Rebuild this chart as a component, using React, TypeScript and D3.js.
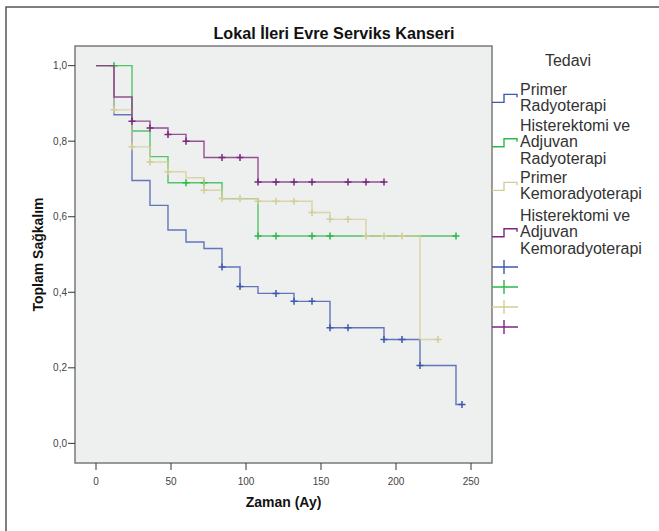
import React from "react";
import * as d3 from "d3";

const title = "Lokal İleri Evre Serviks Kanseri";
const xLabel = "Zaman (Ay)";
const yLabel = "Toplam Sağkalım";
const legendTitle = "Tedavi";

const groupNames = [
  ["Primer", "Radyoterapi"],
  ["Histerektomi ve", "Adjuvan", "Radyoterapi"],
  ["Primer", "Kemoradyoterapi"],
  ["Histerektomi ve", "Adjuvan", "Kemoradyoterapi"],
];
const groupColors = ["#3E58AC", "#2EB848", "#D3CE97", "#7C287D"];

const xTicks = [0, 50, 100, 150, 200, 250];
const yTicks = [0, 0.2, 0.4, 0.6, 0.8, 1.0];

// Step points: [time, survival]
const blueSteps: [number, number][] = [
  [0, 1], [12, 0.870], [24, 0.696], [36, 0.630], [48, 0.565], [60, 0.533], [72, 0.516],
  [84, 0.467], [96, 0.415], [108, 0.397], [132, 0.376], [156, 0.306], [192, 0.275],
  [216, 0.206], [240, 0.103],
];
const blueEnd = 244;
const blueCensors = [84, 96, 120, 132, 144, 156, 168, 192, 204, 216, 244];

const greenSteps: [number, number][] = [
  [0, 1], [24, 0.827], [36, 0.759], [48, 0.690], [84, 0.648], [108, 0.549],
];
const greenEnd = 240;
const greenCensors = [12, 60, 72, 108, 120, 144, 156, 240];

const khakiSteps: [number, number][] = [
  [0, 1], [12, 0.883], [24, 0.785], [36, 0.745], [48, 0.719], [60, 0.703], [72, 0.670],
  [84, 0.648], [108, 0.641], [144, 0.611], [156, 0.593], [180, 0.549], [216, 0.275],
];
const khakiEnd = 228;
const khakiCensors = [12, 24, 36, 48, 72, 84, 96, 108, 120, 132, 144, 156, 168, 180, 192, 204, 228];

const purpleSteps: [number, number][] = [
  [0, 1], [12, 0.917], [24, 0.853], [36, 0.835], [48, 0.818], [60, 0.800], [72, 0.757],
  [108, 0.692],
];
const purpleEnd = 192;
const purpleCensors = [24, 36, 48, 60, 84, 96, 108, 120, 132, 144, 168, 180, 192];

const series = [
  { steps: blueSteps, end: blueEnd, censors: blueCensors },
  { steps: greenSteps, end: greenEnd, censors: greenCensors },
  { steps: khakiSteps, end: khakiEnd, censors: khakiCensors },
  { steps: purpleSteps, end: purpleEnd, censors: purpleCensors },
];

const W = 659;
const H = 531;
const plot = { left: 75, right: 492, top: 46, bottom: 463 };
const font = "'Liberation Sans', Arial, sans-serif";

function survivalAt(steps: [number, number][], t: number) {
  let v = steps[0][1];
  for (const [st, sv] of steps) if (st <= t) v = sv;
  return v;
}

export default function App() {
  const x = d3.scaleLinear().domain([-14, 264]).range([plot.left, plot.right]);
  const y = d3.scaleLinear().domain([-0.052, 1.052]).range([plot.bottom, plot.top]);
  const line = d3
    .line<[number, number]>()
    .x((d) => x(d[0]))
    .y((d) => y(d[1]))
    .curve(d3.curveStepAfter);
  const fmt = (v: number) => d3.format(".1f")(v).replace(".", ",");

  // legend layout
  const lx = 492;
  const lineH = 16.7;
  const entryStarts = [89, 125, 177, 215];
  const crossYs = [267, 287, 307, 327];

  return (
    <div style={{ position: "absolute", left: 0, top: 0 }}>
      <svg width={W} height={H} style={{ display: "block", background: "#fff" }}>
        {/* outer frame */}
        <path d={`M6,${H + 2} L6,7 L${W + 2},7`} fill="none" stroke="#555" strokeWidth={1.5} />
        <text x={334} y={39} textAnchor="middle" fontFamily={font} fontWeight="bold" fontSize={16.2} fill="#111">
          {title}
        </text>
        {/* plot area */}
        <rect
          x={plot.left}
          y={plot.top}
          width={plot.right - plot.left}
          height={plot.bottom - plot.top}
          fill="#EEEFEF"
          stroke="#7a7a7a"
          strokeWidth={1.5}
        />
        {/* y axis */}
        {yTicks.map((t) => (
          <g key={"y" + t}>
            <line x1={plot.left - 7} x2={plot.left} y1={y(t)} y2={y(t)} stroke="#333" strokeWidth={1} />
            <text x={plot.left - 8} y={y(t) + 3.5} textAnchor="end" fontFamily={font} fontSize={10} fill="#444">
              {fmt(t)}
            </text>
          </g>
        ))}
        {/* x axis */}
        {xTicks.map((t) => (
          <g key={"x" + t}>
            <line x1={x(t)} x2={x(t)} y1={plot.bottom} y2={plot.bottom + 7} stroke="#333" strokeWidth={1} />
            <text x={x(t)} y={plot.bottom + 22} textAnchor="middle" fontFamily={font} fontSize={10} fill="#444">
              {t}
            </text>
          </g>
        ))}
        <text x={(plot.left + plot.right) / 2} y={507} textAnchor="middle" fontFamily={font} fontWeight="bold" fontSize={14} fill="#111">
          {xLabel}
        </text>
        <text
          transform={`translate(43,${(plot.top + plot.bottom) / 2}) rotate(-90)`}
          textAnchor="middle"
          fontFamily={font}
          fontWeight="bold"
          fontSize={14}
          fill="#111"
        >
          {yLabel}
        </text>
        {/* curves */}
        {series.map((s, i) => {
          const last = s.steps[s.steps.length - 1][1];
          const pts: [number, number][] = [...s.steps, [s.end, last]];
          return (
            <g key={"s" + i}>
              <path d={line(pts) || ""} fill="none" stroke={groupColors[i]} strokeWidth={1.4} strokeOpacity={0.8} />
              {s.censors.map((c, j) => {
                const cx = x(c);
                const cy = y(survivalAt(s.steps, c));
                return (
                  <path
                    key={j}
                    d={`M${cx - 3.5},${cy}H${cx + 3.5}M${cx},${cy - 3.5}V${cy + 3.5}`}
                    stroke={groupColors[i]}
                    strokeWidth={1.5}
                  />
                );
              })}
            </g>
          );
        })}
        {/* legend */}
        <text x={568} y={66} textAnchor="middle" fontFamily={font} fontSize={16} fill="#333">
          {legendTitle}
        </text>
        {groupNames.map((lines, i) => {
          const top = entryStarts[i];
          const mid = top + ((lines.length - 1) * lineH) / 2;
          const low = mid + 5;
          const high = mid - 3;
          return (
            <g key={"l" + i}>
              <path
                d={`M${lx},${low}H${lx + 12}V${high}H${lx + 25}V${high + 3}`}
                fill="none"
                stroke={groupColors[i]}
                strokeWidth={1.4}
              />
              {lines.map((ln, k) => (
                <text key={k} x={520} y={top + k * lineH + 5.5} fontFamily={font} fontSize={16} fill="#333">
                  {ln}
                </text>
              ))}
            </g>
          );
        })}
        {groupColors.map((c, i) => (
          <path
            key={"c" + i}
            d={`M${lx},${crossYs[i]}H${lx + 26}M${lx + 12},${crossYs[i] - 7}V${crossYs[i] + 7}`}
            stroke={c}
            strokeWidth={1.4}
          />
        ))}
      </svg>
    </div>
  );
}
